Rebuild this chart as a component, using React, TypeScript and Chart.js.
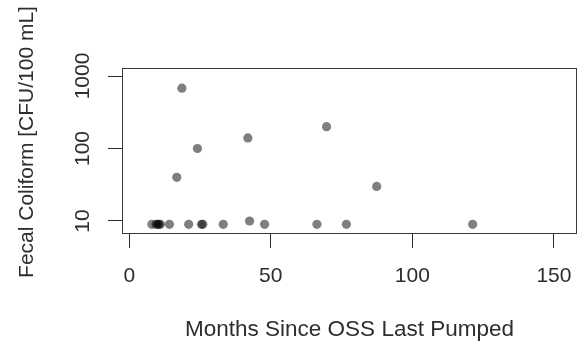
import React, { useEffect, useRef } from "react";
import { Chart, registerables } from "chart.js";

Chart.register(...registerables);

// Months since the on-site sewage system (OSS) was last pumped, per sample
const months = [
  18.6, 24.1, 16.8, 41.9, 69.7, 87.4, 42.5,
  8.0, 9.5, 10.0, 10.5, 11.0, 14.2, 21.0, 25.5, 26.0, 33.2, 47.8, 66.3, 76.7, 121.3,
];
// Fecal coliform concentration, CFU/100 mL
const fecalColiform = [
  680, 100, 40, 140, 200, 30, 10,
  9, 9, 9, 9, 9, 9, 9, 9, 9, 9, 9, 9, 9, 9,
];

const xTicks = [0, 50, 100, 150];
const yTicks = [10, 100, 1000];
const xTitle = "Months Since OSS Last Pumped";
const yTitle = "Fecal Coliform [CFU/100 mL]";

const W = 581;
const H = 349;
const FONT = '"Liberation Sans", Arial, Helvetica, sans-serif';
const INK = "#2e2e2e";

export default function App() {
  const ref = useRef<HTMLCanvasElement>(null);

  useEffect(() => {
    const canvas = ref.current;
    if (!canvas) return;

    // Base-graphics look: a full frame, vertical y tick labels and y title
    const framePlugin = {
      id: "frame",
      beforeDatasetsDraw(chart: any) {
        const { ctx, chartArea: a } = chart;
        ctx.save();
        ctx.strokeStyle = "#3a3a3a";
        ctx.lineWidth = 1;
        ctx.strokeRect(a.left - 0.5, a.top - 0.5, a.right - a.left + 1, a.bottom - a.top + 1);
        ctx.restore();
      },
      afterDraw(chart: any) {
        const { ctx, chartArea: a } = chart;
        const y = chart.scales.y;
        ctx.save();
        ctx.fillStyle = INK;
        ctx.font = `21px ${FONT}`;
        ctx.textAlign = "center";
        ctx.textBaseline = "alphabetic";
        for (const t of y.ticks) {
          const py = y.getPixelForValue(t.value);
          ctx.save();
          ctx.translate(a.left - 34.5, py);
          ctx.rotate(-Math.PI / 2);
          ctx.fillText(String(t.label ?? t.value), 0, 0);
          ctx.restore();
        }
        ctx.save();
        ctx.translate(33, (a.top + a.bottom) / 2 - 9);
        ctx.rotate(-Math.PI / 2);
        ctx.fillText(yTitle, 0, 0);
        ctx.restore();
        ctx.restore();
      },
    };

    const chart = new Chart(canvas, {
      type: "scatter",
      data: {
        datasets: [
          {
            data: months.map((m, i) => ({ x: m, y: fecalColiform[i] })),
            pointRadius: 4.6,
            pointHoverRadius: 4.6,
            pointBackgroundColor: "rgba(0,0,0,0.5)",
            pointBorderWidth: 0,
            pointBorderColor: "rgba(0,0,0,0)",
          },
        ],
      },
      options: {
        responsive: false,
        animation: false,
        events: [],
        layout: { padding: { top: 69, right: 5, left: 0, bottom: 0 } },
        plugins: { legend: { display: false }, tooltip: { enabled: false } },
        scales: {
          x: {
            type: "linear",
            min: -2.2,
            max: 157.8,
            afterBuildTicks: (s: any) => {
              s.ticks = xTicks.map((v) => ({ value: v }));
            },
            afterFit: (s: any) => {
              s.height = H - 233;
              s.paddingLeft = 0;
              s.paddingRight = 0;
            },
            border: { display: false },
            grid: {
              display: true,
              drawOnChartArea: false,
              drawTicks: true,
              tickLength: 15,
              color: INK,
              lineWidth: 1,
            },
            ticks: {
              autoSkip: false,
              maxRotation: 0,
              minRotation: 0,
              padding: 16,
              color: INK,
              font: { family: FONT, size: 21 },
              callback: (v: any) => String(v),
            },
            title: {
              display: true,
              text: xTitle,
              color: INK,
              font: { family: FONT, size: 22.5 },
              padding: { top: 0, bottom: 5.5 },
            },
          },
          y: {
            type: "logarithmic",
            min: 6.83,
            max: 1249,
            afterBuildTicks: (s: any) => {
              s.ticks = yTicks.map((v) => ({ value: v }));
            },
            afterFit: (s: any) => {
              s.width = 123;
              s.paddingTop = 0;
              s.paddingBottom = 0;
            },
            border: { display: false },
            grid: {
              display: true,
              drawOnChartArea: false,
              drawTicks: true,
              tickLength: 15,
              color: INK,
              lineWidth: 1,
            },
            ticks: {
              display: false,
              callback: (v: any) => String(v),
            },
          },
        },
      },
      plugins: [framePlugin],
    } as any);

    return () => chart.destroy();
  }, []);

  return (
    <div style={{ position: "fixed", left: 0, top: 0, width: W, height: H, background: "#fff" }}>
      <canvas ref={ref} width={W} height={H} style={{ display: "block" }} />
    </div>
  );
}
